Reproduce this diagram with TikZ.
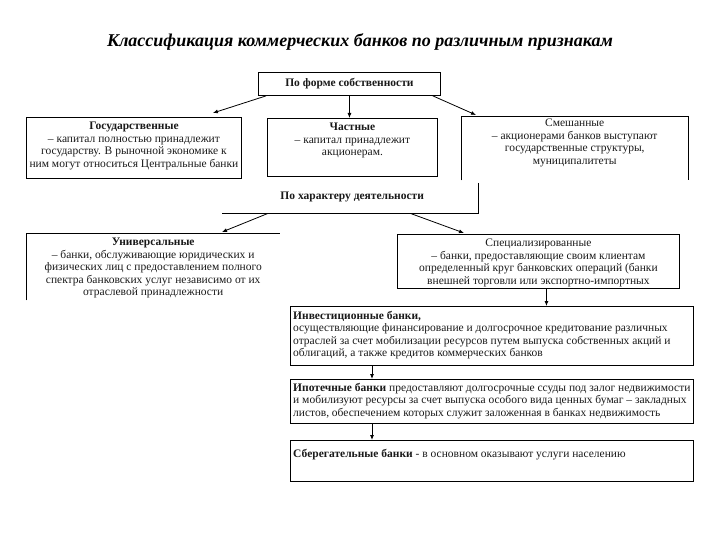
\documentclass[tikz,border=0pt]{standalone}
\usepackage{fontspec}
\setmainfont{Liberation Serif}
\usetikzlibrary{arrows.meta, positioning}
\definecolor{bkLine}{HTML}{000000}
\definecolor{bkText}{HTML}{1A1A1A}
\newcommand{\bkfont}{\fontsize{11.5}{12.5}\selectfont}
\tikzset{
  bkframe/.style={rectangle, draw=bkLine, line width=0.9pt, inner sep=0pt, anchor=north west},
  bkopen/.style={rectangle, inner sep=0pt, anchor=north west},
  bktext/.style={align=center, font=\bkfont, text=bkText, inner sep=0pt},
  bktextL/.style={align=left, font=\bkfont, text=bkText, inner sep=0pt, anchor=north west},
  bkarrow/.style={-{Latex[length=5pt, width=4pt]}, line width=0.8pt, bkLine}
}

\begin{document}
\begin{tikzpicture}[x=1pt, y=-1pt]
  \useasboundingbox[fill=white] (0,0) rectangle (720,540);

  \node[font=\fontsize{18}{20}\selectfont\bfseries\itshape] (title) at (360,42)
    {Классификация коммерческих банков по различным признакам};

  % first level: ownership
  \node[bkframe, minimum width=182pt, minimum height=23pt] (forma) at (258,72) {};
  \node[bktext, font=\bkfont\bfseries] (formaText) at (forma.center) {По форме собственности};

  \node[bkframe, minimum width=215pt, minimum height=61pt] (gos) at (26,117) {};
  \node[bktext, below=5pt of gos.north] (gosText)
    {\textbf{Государственные}\\
     – капитал полностью принадлежит\\
     государству. В рыночной экономике к\\
     ним могут относиться Центральные банки};

  \node[bkframe, minimum width=170pt, minimum height=58pt] (chast) at (267,118) {};
  \node[bktext, below=5pt of chast.north] (chastText)
    {\textbf{Частные}\\
     – капитал принадлежит\\
     акционерам.};

  \node[bkopen, minimum width=227pt, minimum height=64pt] (smesh) at (461,116) {};
  \draw[line width=0.9pt] (smesh.south west) -- (smesh.north west) -- (smesh.north east) -- (smesh.south east);
  \node[bktext, below=3pt of smesh.north] (smeshText)
    {Смешанные\\
     – акционерами банков выступают\\
     государственные структуры,\\
     муниципалитеты};

  \draw[bkarrow] ([xshift=8pt]forma.south west) -- ([xshift=-29pt, yshift=4pt]gos.north east);
  \draw[bkarrow] (forma.south) -- (forma.south |- chast.north);
  \draw[bkarrow] ([xshift=-8pt]forma.south east) -- ([xshift=15pt, yshift=1pt]smesh.north west);

  % second level: activity
  \node[bkopen, minimum width=256pt, minimum height=30pt] (harakter) at (222,183) {};
  \draw[line width=0.9pt] (harakter.north east) -- (harakter.south east) -- (harakter.south west);
  \node[bktext, font=\bkfont\bfseries] (harakterText) at ([xshift=2pt, yshift=1pt]harakter.center) {По характеру деятельности};

  \node[bkopen, minimum width=254pt, minimum height=67pt] (univ) at (26,233) {};
  \draw[line width=0.9pt] (univ.south west) -- (univ.north west) -- (univ.north east);
  \begin{scope}
    \clip (univ.south west) rectangle (univ.north east);
    \node[bktext, below=5pt of univ.north] (univText)
      {\textbf{Универсальные}\\
       – банки, обслуживающие юридических и\\
       физических лиц с предоставлением полного\\
       спектра банковских услуг независимо от их\\
       отраслевой принадлежности};
  \end{scope}

  \node[bkframe, minimum width=282pt, minimum height=54pt] (spec) at (397,234) {};
  \node[bktext, below=5pt of spec.north] (specText)
    {Специализированные\\
     – банки, предоставляющие своим клиентам\\
     определенный круг банковских операций (банки\\
     внешней торговли или экспортно-импортных};

  \draw[bkarrow] ([xshift=46pt]harakter.south west) -- ([xshift=196pt, yshift=1pt]univ.north west);
  \draw[bkarrow] ([xshift=-68pt]harakter.south east) -- ([xshift=67pt, yshift=1pt]spec.north west);

  % kinds of specialised banks
  \node[bkframe, minimum width=403pt, minimum height=59pt] (invest) at (290,306) {};
  \node[bktextL] (investText) at ([xshift=3pt, yshift=-5pt]invest.north west)
    {\textbf{Инвестиционные банки,}\\
     осуществляющие финансирование и долгосрочное кредитование различных\\
     отраслей за счет мобилизации ресурсов путем выпуска собственных акций и\\
     облигаций, а также кредитов коммерческих банков};

  \node[bkframe, minimum width=403pt, minimum height=44pt] (ipot) at (290,379) {};
  \node[bktextL] (ipotText) at ([xshift=3pt, yshift=-4pt]ipot.north west)
    {\textbf{Ипотечные банки} предоставляют долгосрочные ссуды под залог недвижимости\\
     и мобилизуют ресурсы за счет выпуска особого вида ценных бумаг – закладных\\
     листов, обеспечением которых служит заложенная в банках недвижимость};

  \node[bkframe, minimum width=403pt, minimum height=41pt] (sber) at (290,440) {};
  \node[bktextL] (sberText) at ([xshift=3pt, yshift=-9pt]sber.north west)
    {\textbf{Сберегательные банки} - в основном оказывают услуги населению};

  \draw[bkarrow] ([xshift=8pt]spec.south) -- ([xshift=8pt]spec.south |- invest.north);
  \draw[bkarrow] ([xshift=82pt]invest.south west) -- ([xshift=82pt]ipot.north west);
  \draw[bkarrow] ([xshift=82pt]ipot.south west) -- ([xshift=82pt]sber.north west);
\end{tikzpicture}
\end{document}
